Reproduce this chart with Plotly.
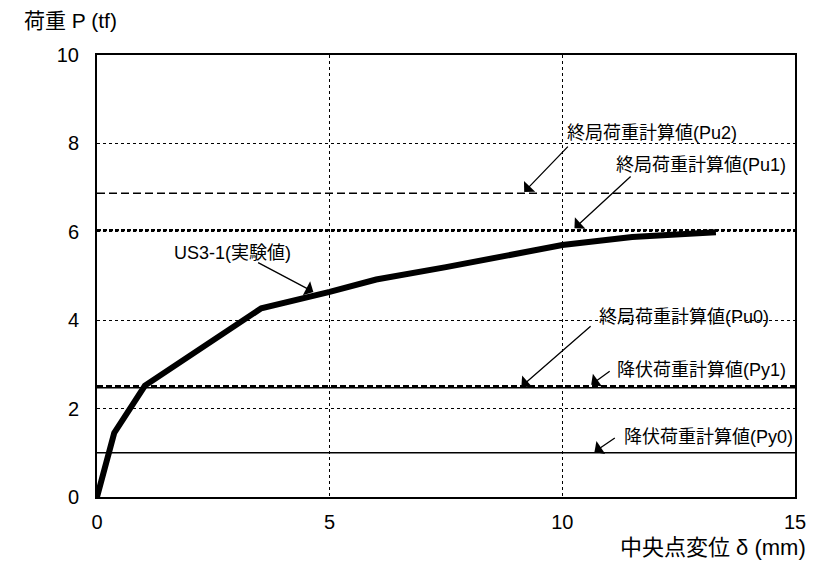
import plotly.graph_objects as go

# Load-deflection curve of specimen US3-1 (experimental)
deflection_mm = [0.0, 0.37, 1.03, 3.53, 5.0, 6.0, 7.5, 9.5, 10.0, 11.5, 13.3]
load_tf = [0.0, 1.45, 2.52, 4.27, 4.64, 4.92, 5.2, 5.6, 5.7, 5.88, 5.99]

# Calculated reference loads (tf)
ref_names = ["Pu2", "Pu1", "Pu0", "Py1", "Py0"]
ref_values = [6.87, 6.04, 2.47, 2.51, 1.0]
ref_dash = ["8px,4px", "4px,2px", "solid", "6px,3px", "solid"]
ref_width = [1.5, 2.2, 1.5, 2.0, 1.5]

x_range = [0, 15]
y_range = [0, 10]
x_ticks = [0, 5, 10, 15]
y_ticks = [0, 2, 4, 6, 8, 10]

# Labels: text, left anchor position, arrow tail, arrow head (data coords)
labels = [
    ("US3-1(実験値)", (1.62, 5.52), (3.43, 5.32), (4.65, 4.64)),
    ("終局荷重計算値(Pu2)", (10.05, 8.24), (10.15, 7.96), (9.18, 6.9)),
    ("終局荷重計算値(Pu1)", (11.12, 7.51), (11.5, 7.28), (10.26, 6.08)),
    ("終局荷重計算値(Pu0)", (10.75, 4.07), (10.64, 3.89), (9.12, 2.5)),
    ("降伏荷重計算値(Py1)", (11.14, 2.87), (11.05, 2.87), (10.62, 2.54)),
    ("降伏荷重計算値(Py0)", (11.29, 1.36), (11.16, 1.36), (10.69, 1.02)),
]

FONT = "Liberation Sans, Arial, Noto Sans CJK JP, sans-serif"

fig = go.Figure()

for name, val, dash, w in zip(ref_names, ref_values, ref_dash, ref_width):
    fig.add_trace(go.Scatter(
        x=x_range, y=[val, val], mode="lines", name=name,
        line=dict(color="black", width=w, dash=dash),
        hoverinfo="skip", showlegend=False,
    ))

fig.add_trace(go.Scatter(
    x=deflection_mm, y=load_tf, mode="lines", name="US3-1",
    line=dict(color="black", width=6), showlegend=False,
))

for text, (tx, ty), (ax, ay), (hx, hy) in labels:
    fig.add_annotation(x=tx, y=ty, text=text, showarrow=False,
                       xanchor="left", yanchor="middle",
                       font=dict(size=18, color="black", family=FONT))
    fig.add_annotation(x=hx, y=hy, ax=ax, ay=ay, axref="x", ayref="y",
                       text="", showarrow=True, arrowhead=1, arrowsize=2,
                       arrowwidth=1.3, arrowcolor="black")

# Axis titles placed outside the plotting area
fig.add_annotation(x=-0.108, y=1.077, xref="paper", yref="paper", xanchor="left",
                   yanchor="middle", text="荷重 P (tf)", showarrow=False,
                   font=dict(size=21, color="black", family=FONT))
fig.add_annotation(x=1.019, y=-0.115, xref="paper", yref="paper", xanchor="right",
                   yanchor="middle", text="中央点変位 δ (mm)", showarrow=False,
                   font=dict(size=22, color="black", family=FONT))

axis_common = dict(
    showline=True, linecolor="black", linewidth=2, mirror=True,
    showgrid=True, gridcolor="black", gridwidth=1, griddash="dot",
    zeroline=False, ticks="",
    tickfont=dict(size=20, color="black", family=FONT),
)

fig.update_xaxes(range=x_range, tickvals=x_ticks, ticklabelstandoff=6, **axis_common)
fig.update_yaxes(range=y_range, tickvals=y_ticks, ticklabelstandoff=12, **axis_common)

fig.update_layout(
    width=827, height=570,
    margin=dict(l=97, r=32, t=55, b=73),
    paper_bgcolor="white", plot_bgcolor="white",
    font=dict(family=FONT, color="black"),
)

fig.write_html("out.html")
